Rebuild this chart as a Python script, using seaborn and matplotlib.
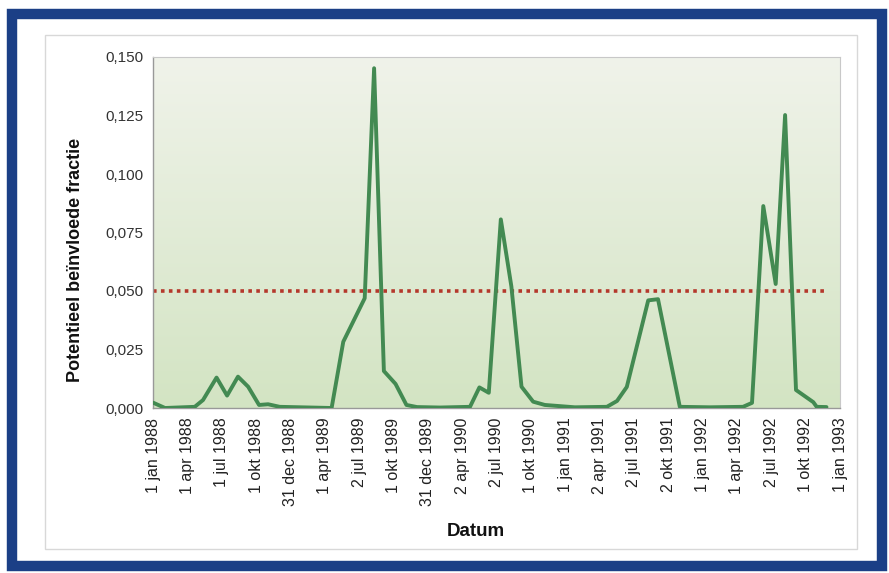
import numpy as np
import pandas as pd
import matplotlib
matplotlib.use("Agg")
import matplotlib.pyplot as plt
from matplotlib.patches import Rectangle
import seaborn as sns

# ---- data ----
dates = ["1988-01-01", "1988-02-02", "1988-04-21", "1988-05-13", "1988-06-18",
         "1988-07-16", "1988-08-14", "1988-09-10", "1988-10-09", "1988-11-02",
         "1988-12-03", "1989-04-20", "1989-05-21", "1989-07-17", "1989-08-11",
         "1989-09-06", "1989-10-07", "1989-11-05", "1989-12-03", "1990-02-02",
         "1990-04-23", "1990-05-18", "1990-06-12", "1990-07-14", "1990-08-11",
         "1990-09-07", "1990-10-08", "1990-11-08", "1991-01-27", "1991-04-22",
         "1991-05-19", "1991-06-14", "1991-08-10", "1991-09-05", "1991-11-02",
         "1992-01-21", "1992-04-18", "1992-05-12", "1992-06-11", "1992-07-14",
         "1992-08-08", "1992-09-06", "1992-10-22", "1992-10-31", "1992-11-26"]
fraction = [0.0023, 0.0000, 0.0005, 0.0034, 0.0130,
            0.0053, 0.0134, 0.0091, 0.0013, 0.0016,
            0.0005, 0.0000, 0.0283, 0.0469, 0.1452,
            0.0158, 0.0103, 0.0013, 0.0004, 0.0002,
            0.0005, 0.0088, 0.0065, 0.0806, 0.0520,
            0.0091, 0.0027, 0.0013, 0.0003, 0.0005,
            0.0030, 0.0090, 0.0460, 0.0465, 0.0005,
            0.0003, 0.0005, 0.0022, 0.0863, 0.0530,
            0.1252, 0.0077, 0.0025, 0.0005, 0.0004]
threshold = 0.05

tick_dates = ["1988-01-01", "1988-04-01", "1988-07-01", "1988-10-01", "1988-12-31",
              "1989-04-01", "1989-07-02", "1989-10-01", "1989-12-31", "1990-04-02",
              "1990-07-02", "1990-10-01", "1991-01-01", "1991-04-02", "1991-07-02",
              "1991-10-02", "1992-01-01", "1992-04-01", "1992-07-02", "1992-10-01",
              "1993-01-01"]
tick_labels = ["1 jan 1988", "1 apr 1988", "1 jul 1988", "1 okt 1988", "31 dec 1988",
               "1 apr 1989", "2 jul 1989", "1 okt 1989", "31 dec 1989", "2 apr 1990",
               "2 jul 1990", "1 okt 1990", "1 jan 1991", "2 apr 1991", "2 jul 1991",
               "2 okt 1991", "1 jan 1992", "1 apr 1992", "2 jul 1992", "1 okt 1992",
               "1 jan 1993"]
y_ticks = [0.0, 0.025, 0.05, 0.075, 0.1, 0.125, 0.15]
y_labels = ["0,000", "0,025", "0,050", "0,075", "0,100", "0,125", "0,150"]

df = pd.DataFrame({"Datum": pd.to_datetime(dates), "fractie": fraction})

sns.set_style("white")
plt.rcParams["font.family"] = ["Liberation Sans", "DejaVu Sans"]

W, H = 889, 573
fig = plt.figure(figsize=(W / 100, H / 100), dpi=100)
fig.patch.set_facecolor("white")

# outer blue frame
fig.add_artist(Rectangle((12 / W, 1 - 566 / H), 870 / W, (566 - 13.5) / H,
                         transform=fig.transFigure, fill=False,
                         edgecolor="#1b3f86", linewidth=7.5))
# inner light grey panel
fig.add_artist(Rectangle((45 / W, 1 - 549 / H), (857 - 45) / W, (549 - 35) / H,
                         transform=fig.transFigure, fill=False,
                         edgecolor="#d8d8d8", linewidth=1.0))

ax = fig.add_axes([153 / W, 1 - 408 / H, (840 - 153) / W, (408 - 57) / H])

# gradient background
grad = np.linspace(0, 1, 256).reshape(-1, 1)
top = np.array([240, 243, 234]) / 255
bot = np.array([211, 228, 195]) / 255
img = top[None, None, :] * (1 - grad[:, :, None]) + bot[None, None, :] * grad[:, :, None]
ax.imshow(img, extent=[0, 1, 0, 1], transform=ax.transAxes, aspect="auto", zorder=0)

x0 = pd.Timestamp(tick_dates[0])
x1 = pd.Timestamp(tick_dates[-1])

ax.hlines(threshold, df["Datum"].iloc[0], df["Datum"].iloc[-1],
          colors="#b5382c", linestyles=(0, (1, 1.2)), linewidth=2.6, zorder=2)

sns.lineplot(data=df, x="Datum", y="fractie", ax=ax, color="#438a52",
             linewidth=2.8, zorder=3)

ax.set_xlim(x0, x1)
ax.set_ylim(0, 0.15)
ax.set_xticks(pd.to_datetime(tick_dates))
ax.set_xticklabels(tick_labels, rotation=90, fontsize=11.5, color="#222222")
ax.set_yticks(y_ticks)
ax.set_yticklabels(y_labels, fontsize=11, color="#333333")
ax.tick_params(axis="both", which="both", direction="out", length=4,
               color="#999999", width=0.8, pad=3)
ax.set_xlabel("")
ax.set_ylabel("")

for side in ["top", "right"]:
    ax.spines[side].set_color("#c8c8c8")
    ax.spines[side].set_linewidth(0.8)
for side in ["left", "bottom"]:
    ax.spines[side].set_color("#999999")
    ax.spines[side].set_linewidth(1.0)

fig.text(476 / W, 1 - 531 / H, "Datum", ha="center", va="center",
         fontsize=13.5, fontweight="bold", color="#111111")
fig.text(75 / W, 1 - 260 / H, "Potentieel beïnvloede fractie", ha="center",
         va="center", rotation=90, fontsize=13, fontweight="bold", color="#111111")

fig.savefig("out.png", dpi=100)
